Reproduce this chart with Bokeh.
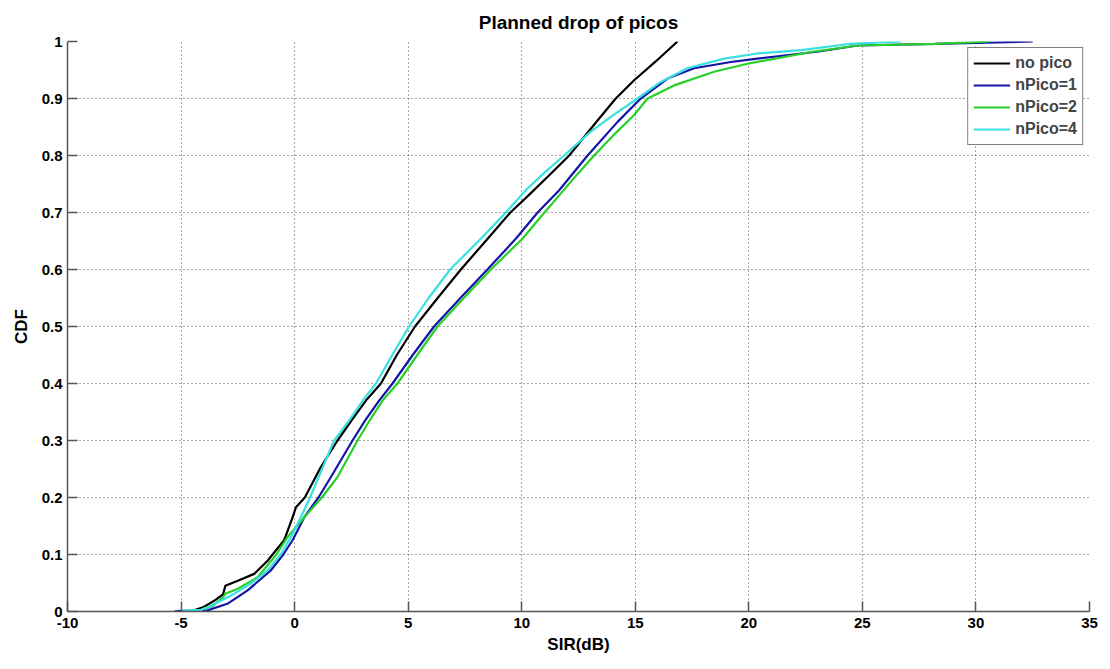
from bokeh.plotting import figure
from bokeh.models import Range1d, FixedTicker, Legend, LegendItem
from bokeh.embed import file_html
from bokeh.resources import INLINE

# ---- data (SIR in dB, CDF value) ----
no_pico_sir = [-4.6, -4.0, -3.5, -3.15, -3.05, -2.5, -1.78, -1.19, -0.97, -0.46, -0.09, 0.06, 0.45,
               1.15, 1.89, 2.5, 3.14, 3.8, 4.5, 5.3, 6.3, 7.32, 8.5, 9.5, 10.3, 11.2, 12.09, 12.8,
               13.41, 14.14, 14.95, 15.9, 16.86]
no_pico_cdf = [0.0, 0.008, 0.02, 0.03, 0.045, 0.054, 0.066, 0.089, 0.1, 0.125, 0.165, 0.183, 0.2,
               0.253, 0.3, 0.335, 0.37, 0.4, 0.45, 0.5, 0.55, 0.6, 0.654, 0.7, 0.73, 0.765, 0.8, 0.835,
               0.865, 0.9, 0.932, 0.965, 1.0]

npico1_sir = [-5.3, -5.0, -3.84, -2.96, -2.07, -1.05, -0.5, -0.09, 0.42, 1.05, 1.6, 2.55, 3.1, 3.72,
              4.31, 5.2, 6.14, 7.3, 8.49, 9.74, 10.7, 11.65, 12.9, 14.22, 15.24, 16.42, 17.59, 19.21,
              20.38, 23.0, 24.8, 28.2, 32.5]
npico1_cdf = [0.0, 0.001, 0.002, 0.0135, 0.037, 0.072, 0.1, 0.125, 0.165, 0.2, 0.236, 0.3, 0.335, 0.37,
              0.4, 0.45, 0.5, 0.55, 0.6, 0.654, 0.7, 0.739, 0.8, 0.859, 0.9, 0.935, 0.953, 0.964,
              0.970, 0.982, 0.993, 0.996, 1.0]

npico2_sir = [-4.7, -4.2, -3.6, -3.15, -3.05, -2.5, -1.63, -0.8, -0.32, 0.42, 1.2, 1.89, 2.77, 3.3,
              3.87, 4.53, 5.4, 6.29, 7.45, 8.64, 10.03, 11.0, 11.65, 12.4, 13.19, 14.1, 14.95, 15.54,
              16.71, 18.47, 19.94, 22.8, 24.8, 28.2, 30.6]
npico2_cdf = [0.0, 0.002, 0.01, 0.025, 0.031, 0.04, 0.06, 0.1, 0.13, 0.165, 0.2, 0.236, 0.3, 0.335,
              0.37, 0.4, 0.45, 0.5, 0.55, 0.6, 0.654, 0.7, 0.73, 0.765, 0.8, 0.838, 0.871, 0.9,
              0.923, 0.947, 0.961, 0.982, 0.993, 0.996, 1.0]

npico4_sir = [-5.0, -4.7, -4.1, -3.84, -3.25, -2.66, -1.93, -1.19, -0.61, -0.17, 0.27, 0.68, 1.74,
              2.4, 3.0, 3.58, 4.3, 5.04, 5.9, 6.85, 8.2, 9.3, 10.2, 11.0, 11.87, 13.04, 14.0, 15.1,
              16.12, 17.3, 18.91, 20.38, 22.3, 24.5, 26.7]
npico4_cdf = [0.0, 0.002, 0.003, 0.0076, 0.019, 0.031, 0.049, 0.072, 0.1, 0.13, 0.165, 0.2, 0.3,
              0.335, 0.37, 0.4, 0.45, 0.5, 0.55, 0.6, 0.654, 0.7, 0.74, 0.77, 0.8, 0.842, 0.87, 0.9,
              0.929, 0.953, 0.970, 0.979, 0.985, 0.996, 1.0]

series_names = ["no pico", "nPico=1", "nPico=2", "nPico=4"]
x_ticks = [-10, -5, 0, 5, 10, 15, 20, 25, 30, 35]
x_tick_labels = ["-10", "-5", "0", "5", "10", "15", "20", "25", "30", "35"]
y_ticks = [0, 0.1, 0.2, 0.3, 0.4, 0.5, 0.6, 0.7, 0.8, 0.9, 1.0]
y_tick_labels = ["0", "0.1", "0.2", "0.3", "0.4", "0.5", "0.6", "0.7", "0.8", "0.9", "1"]

FONT = "Liberation Sans"

p = figure(frame_width=1022, frame_height=570, min_border_left=67, min_border_right=21,
           min_border_top=41, min_border_bottom=58,
           x_range=Range1d(-10, 35), y_range=Range1d(0, 1),
           output_backend="svg", toolbar_location=None,
           title="Planned drop of picos")
p.outline_line_color = None
p.background_fill_color = "white"
p.border_fill_color = "white"

p.title.align = "center"
p.title.text_font = FONT
p.title.text_font_size = "19px"
p.title.text_font_style = "bold"
p.title.text_color = "black"
p.title.standoff = 17

for ax in (p.xaxis[0], p.yaxis[0]):
    ax.axis_line_color = "#555555"
    ax.axis_line_width = 1.5
    ax.major_tick_line_color = "#555555"
    ax.major_tick_line_width = 1.5
    ax.major_tick_in = 10
    ax.major_tick_out = 0
    ax.minor_tick_line_color = None
    ax.major_label_text_font = FONT
    ax.major_label_text_font_style = "bold"
    ax.major_label_text_font_size = "15px"
    ax.major_label_text_color = "black"
    ax.axis_label_text_font = FONT
    ax.axis_label_text_font_style = "bold"
    ax.axis_label_text_font_size = "17px"
    ax.axis_label_text_color = "black"

p.xaxis.ticker = FixedTicker(ticks=x_ticks)
p.yaxis.ticker = FixedTicker(ticks=y_ticks)
p.xaxis.major_label_overrides = {t: l for t, l in zip(x_ticks, x_tick_labels)}
p.yaxis.major_label_overrides = {t: l for t, l in zip(y_ticks, y_tick_labels)}
p.xaxis.axis_label = "SIR(dB)"
p.yaxis.axis_label = "CDF"
p.xaxis.major_label_standoff = 6
p.yaxis.major_label_standoff = 5
p.xaxis.axis_label_standoff = 4
p.yaxis.axis_label_standoff = 8

for g in (p.xgrid[0], p.ygrid[0]):
    g.grid_line_color = "#222222"
    g.grid_line_dash = "1 3"
    g.grid_line_width = 1
    g.grid_line_alpha = 0.8

colors = ["#000000", "#1414a8", "#28d028", "#38e0e0"]
data = [(no_pico_sir, no_pico_cdf), (npico1_sir, npico1_cdf),
        (npico2_sir, npico2_cdf), (npico4_sir, npico4_cdf)]
renderers = []
for (xs, ys), c in zip(data, colors):
    r = p.line(xs, ys, line_color=c, line_width=2.2)
    renderers.append(r)

legend = Legend(items=[LegendItem(label=n, renderers=[r]) for n, r in zip(series_names, renderers)],
                location="top_right")
legend.label_text_font = FONT
legend.label_text_font_style = "bold"
legend.label_text_font_size = "16px"
legend.glyph_width = 37
legend.glyph_height = 20
legend.spacing = 2
legend.padding = 5
legend.margin = 6
legend.label_standoff = 5
legend.border_line_color = "black"
legend.border_line_width = 1
legend.background_fill_alpha = 1
p.add_layout(legend)

open("out.html", "w").write(file_html(p, INLINE))
